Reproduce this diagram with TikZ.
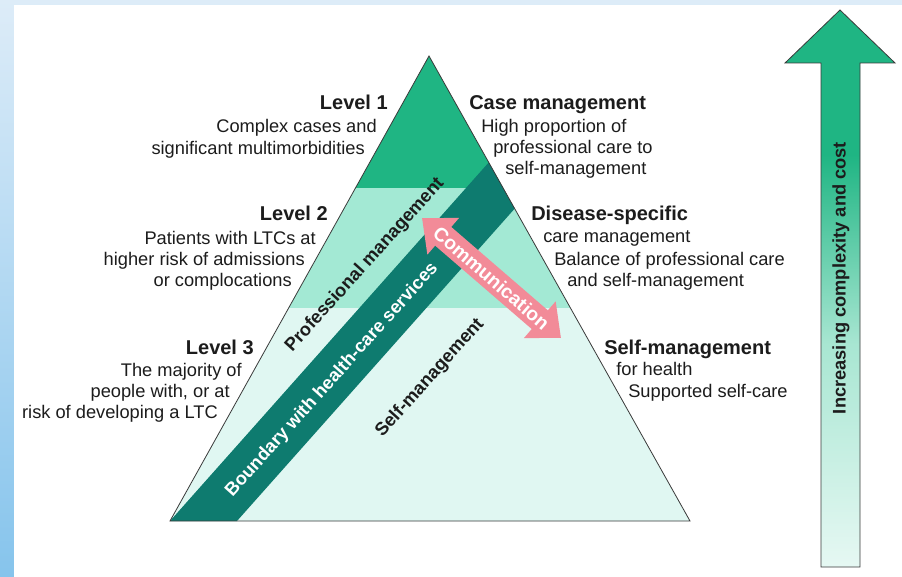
\documentclass[tikz,border=0pt]{standalone}
\usepackage{fontspec}
\setmainfont{Liberation Sans}
\usetikzlibrary{arrows.meta}
\usetikzlibrary{calc}

\definecolor{bgtop}{HTML}{DDECF8}
\definecolor{bgbottom}{HTML}{86C4EC}
\definecolor{levelone}{HTML}{1FB583}
\definecolor{leveltwo}{HTML}{A3E9D4}
\definecolor{levelthree}{HTML}{E0F7F2}
\definecolor{bandteal}{HTML}{0E7B6F}
\definecolor{commpink}{HTML}{F28B98}
\definecolor{arrowlow}{HTML}{E6F8F3}
\definecolor{arrowmid}{HTML}{A8E6D2}
\definecolor{edgegray}{HTML}{3A3A3A}
\definecolor{inkdark}{HTML}{1C1C1C}

\pgfdeclareverticalshading{risefade}{100bp}{color(0bp)=(arrowlow); color(25bp)=(arrowlow); color(45bp)=(arrowmid); color(62bp)=(levelone); color(100bp)=(levelone)}

\tikzset{
  outline/.style={draw=edgegray, line width=0.6pt},
  lefthead/.style={anchor=base east, text=inkdark, font=\fontsize{15}{18}\selectfont\bfseries, inner sep=0pt},
  lefttext/.style={anchor=base east, text=inkdark, font=\fontsize{13.7}{16}\selectfont, inner sep=0pt},
  righthead/.style={anchor=base west, text=inkdark, font=\fontsize{15}{18}\selectfont\bfseries, inner sep=0pt},
  righttext/.style={anchor=base west, text=inkdark, font=\fontsize{13.7}{16}\selectfont, inner sep=0pt},
  slantlabel/.style={rotate=48, font=\fontsize{13.7}{16}\selectfont\bfseries, inner sep=0pt},
  commarrow/.style={commpink, line width=18.5pt, {Triangle[length=21pt,width=35pt]}-{Triangle[length=21pt,width=35pt]}},
  commtext/.style={text=white, font=\fontsize{14.5}{16}\selectfont\bfseries, inner sep=0pt}
}

\begin{document}
\begin{tikzpicture}[x=0.75pt,y=-0.75pt]
    \useasboundingbox (0,0) rectangle (902,577);
    % backdrop
    \shade[top color=bgtop, bottom color=bgbottom] (0,0) rectangle (902,577);
    \fill[white] (14,5) rectangle (902,577);

    % pyramid
    \coordinate (apex) at (429,56);
    \coordinate (baseL) at (170,521);
    \coordinate (baseR) at (690,521);
    \coordinate (bandR) at (237,521);
    \begin{scope}
        \clip (apex) -- (baseL) -- (baseR) -- cycle;
        \fill[levelthree] (150,308) rectangle (720,530);
        \fill[leveltwo] (150,188) rectangle (720,308);
        \fill[levelone] (150,40) rectangle (720,188);
        \fill[bandteal] (baseL) -- (bandR) -- ++(400,-450) -- ($(baseL)+(400,-450)$) -- cycle;
    \end{scope}
    \draw[outline] (apex) -- (baseL) -- (baseR) -- cycle;

    \node[slantlabel, text=inkdark] (profmgmt) at (365,265) {Professional management};
    \node[slantlabel, text=white] (boundary) at (332,380) {Boundary with health-care services};
    \node[slantlabel, text=inkdark] (selfmgmt) at (430,378) {Self-management};

    % communication
    \coordinate (commA) at (422,218);
    \coordinate (commB) at (561,338);
    \draw[commarrow] (commA) -- (commB) node[midway, sloped, commtext] (commlabel) {Communication};

    % left side
    \node[lefthead] (lvlone) at (388,110) {Level 1};
    \node[lefttext] (lvlonea) at (377,133) {Complex cases and};
    \node[lefttext] (lvloneb) at (365,155) {significant multimorbidities};
    \node[lefthead] (lvltwo) at (328,221) {Level 2};
    \node[lefttext] (lvltwoa) at (316,244) {Patients with LTCs at};
    \node[lefttext] (lvltwob) at (305,265) {higher risk of admissions};
    \node[lefttext] (lvltwoc) at (292,286) {or complocations};
    \node[lefthead] (lvlthree) at (254,354) {Level 3};
    \node[lefttext] (lvlthreea) at (242,376) {The majority of};
    \node[lefttext] (lvlthreeb) at (230,397) {people with, or at};
    \node[lefttext] (lvlthreec) at (218,418) {risk of developing a LTC};

    % right side
    \node[righthead] (caseone) at (469,110) {Case management};
    \node[righttext] (caseonea) at (481,133) {High proportion of};
    \node[righttext] (caseoneb) at (493,154) {professional care to};
    \node[righttext] (caseonec) at (505,175) {self-management};
    \node[righthead] (casetwo) at (531,221) {Disease-specific};
    \node[righttext] (casetwoa) at (543,243) {care management};
    \node[righttext] (casetwob) at (554,265) {Balance of professional care};
    \node[righttext] (casetwoc) at (567,286) {and self-management};
    \node[righthead] (casethree) at (604,354) {Self-management};
    \node[righttext] (casethreea) at (616,375) {for health};
    \node[righttext] (casethreeb) at (628,397) {Supported self-care};

    % rising arrow
    \shadedraw[shading=risefade, outline] (821,567) -- (821,63) -- (785,63) -- (840,10) -- (895,63) -- (860,63) -- (860,567) -- cycle;
    \node[rotate=90, text=inkdark, font=\fontsize{13.7}{16}\selectfont\bfseries] (rising) at (841,278) {Increasing complexity and cost};
\end{tikzpicture}
\end{document}
